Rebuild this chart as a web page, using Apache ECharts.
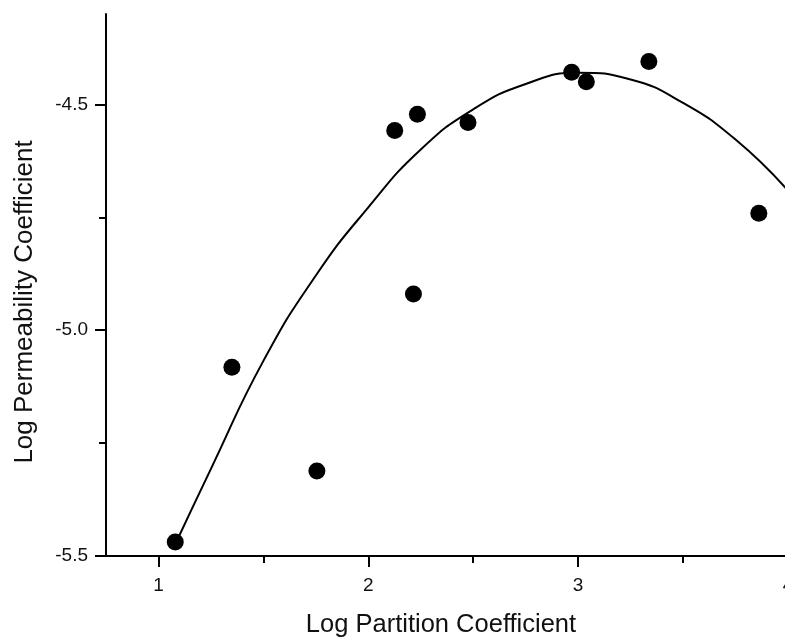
<!DOCTYPE html>
<html>
<head>
<meta charset="utf-8">
<script src="https://cdn.jsdelivr.net/npm/echarts@6/dist/echarts.min.js"></script>
<style>
html,body{margin:0;padding:0;background:#fff;}
#chart{width:785px;height:639px;}
</style>
</head>
<body>
<div id="chart"></div>
<script>
// Measured data points (Log Partition Coefficient, Log Permeability Coefficient)
var pointX = [1.08, 1.35, 1.755, 2.126, 2.234, 2.215, 2.475, 2.969, 3.039, 3.337, 3.861];
var pointY = [-5.469, -5.082, -5.312, -4.558, -4.522, -4.920, -4.540, -4.429, -4.450, -4.405, -4.741];

// Fitted curve
var curveX = [1.075, 1.25, 1.5, 1.75, 2.0, 2.25, 2.5, 2.75, 3.0, 3.25, 3.5, 3.75, 4.0];
var curveY = [-5.479, -5.307, -5.068, -4.879, -4.728, -4.600, -4.511, -4.455, -4.430, -4.445, -4.497, -4.578, -4.691];

// Tick values
var xMajorTicks = [1, 2, 3, 4];
var xMinorTicks = [1.5, 2.5, 3.5];
var yMajorTicks = [-5.5, -5.0, -4.5];
var yMinorTicks = [-5.25, -4.75];

var xTitle = 'Log Partition Coefficient';
var yTitle = 'Log Permeability Coefficient';

var scatterData = pointX.map(function (x, i) { return [x, pointY[i]]; });
var curveData = curveX.map(function (x, i) { return [x, curveY[i]]; });

var FONT = '"Liberation Sans", Arial, sans-serif';
var INK = '#000';

var chart = echarts.init(document.getElementById('chart'), null, {renderer: 'canvas'});
chart.setOption({
  animation: false,
  backgroundColor: '#fff',
  grid: {left: 106, top: 14, width: 682, height: 542, containLabel: false, outerBoundsMode: 'none'},
  xAxis: [{
    type: 'value', min: 0.75, max: 4,
    axisLine: {show: true, onZero: false, lineStyle: {color: INK, width: 2}},
    axisTick: {show: true, length: 11, customValues: xMajorTicks, lineStyle: {color: INK, width: 2}},
    axisLabel: {show: true, customValues: xMajorTicks, margin: 20, fontSize: 19, color: '#111', fontFamily: FONT,
      hideOverlap: false, formatter: function (v) { return String(v); }},
    splitLine: {show: false}
  }, {
    type: 'value', min: 0.75, max: 4, position: 'bottom',
    axisLine: {show: false},
    axisTick: {show: true, length: 7, customValues: xMinorTicks, lineStyle: {color: INK, width: 2}},
    axisLabel: {show: false},
    splitLine: {show: false}
  }],
  yAxis: [{
    type: 'value', min: -5.5, max: -4.3,
    axisLine: {show: true, onZero: false, lineStyle: {color: INK, width: 2}},
    axisTick: {show: true, length: 11, customValues: yMajorTicks, lineStyle: {color: INK, width: 2}},
    axisLabel: {show: true, customValues: yMajorTicks, margin: 18, fontSize: 19, color: '#111', fontFamily: FONT,
      formatter: function (v) { return v.toFixed(1); }},
    splitLine: {show: false}
  }, {
    type: 'value', min: -5.5, max: -4.3, position: 'left',
    axisLine: {show: false},
    axisTick: {show: true, length: 7, customValues: yMinorTicks, lineStyle: {color: INK, width: 2}},
    axisLabel: {show: false},
    splitLine: {show: false}
  }],
  graphic: [{
    type: 'text', x: 441, y: 625,
    style: {text: xTitle, font: '25.5px ' + FONT, fill: '#111', textAlign: 'center', textVerticalAlign: 'middle'}
  }, {
    type: 'text', x: 25, y: 302, rotation: Math.PI / 2,
    style: {text: yTitle, font: '26px ' + FONT, fill: '#111', textAlign: 'center', textVerticalAlign: 'middle'}
  }],
  series: [{
    type: 'line', xAxisIndex: 0, yAxisIndex: 0,
    data: curveData, smooth: 0.5, showSymbol: false, symbol: 'none',
    lineStyle: {color: INK, width: 2}, clip: true, z: 2
  }, {
    type: 'scatter', xAxisIndex: 0, yAxisIndex: 0,
    data: scatterData, symbol: 'circle', symbolSize: 17,
    itemStyle: {color: INK, opacity: 1}, z: 3
  }]
});
</script>
</body>
</html>
